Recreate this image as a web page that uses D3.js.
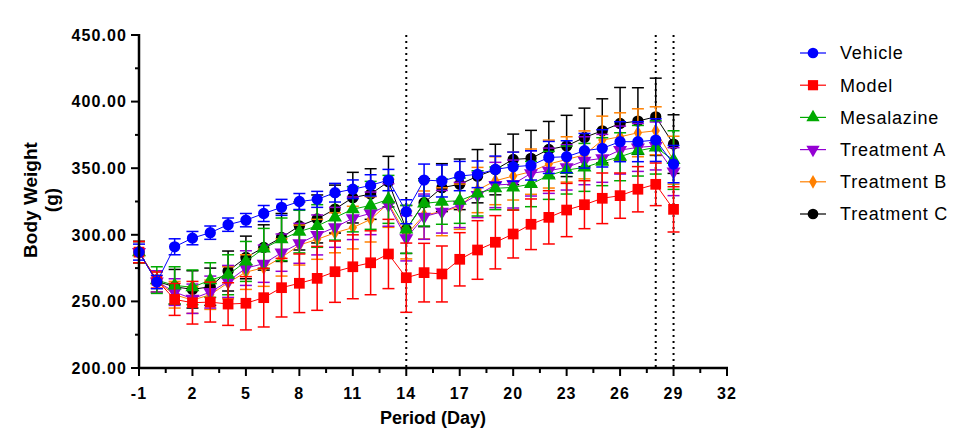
<!DOCTYPE html>
<html>
<head>
<meta charset="utf-8">
<script src="https://cdn.jsdelivr.net/npm/d3@7"></script>
<style>
  html, body { margin: 0; padding: 0; background: #fff; }
  svg { display: block; font-family: "Liberation Sans", Arial, sans-serif; }
</style>
</head>
<body>
<svg id="chart" width="963" height="448"></svg>
<script>
// ---- Data ----
const days = [-1,0,1,2,3,4,5,6,7,8,9,10,11,12,13,14,15,16,17,18,19,20,21,22,23,24,25,26,27,28,29];

const vehicleMean = [287,264.5,291,297.5,301.6,307.6,311,316,320.6,325,326.6,331.6,334.2,337.1,341.1,317.3,341.1,340.4,344.1,345.4,349.1,351.1,352.1,358.1,358.6,363.1,364.9,369.9,369.9,371.1,353.1];
const vehicleSD   = [6,5,6,5,5,5,5,6,6,6,6,7,7,8,8,9,12,12,11,10,10,11,11,12,12,13,14,15,15,16,14];

const modelMean = [287,266,251.5,249,249.5,248,248.6,252.8,260.3,263.6,267.3,272.3,276,279,285.6,267.8,271.6,270.6,281.6,288.6,294.4,300.6,307.9,313.1,318.6,322.6,327.4,329.4,334.2,337.9,319.1];
const modelSD   = [8,6,12,16,15,16,20,22,22,22,24,23,24,24,26,26,22,21,20,22,20,18,19,20,20,18,19,17,17,16,17];

const mesalazineMean = [287,266,262,260.6,266,270,280,289.8,296.6,302.4,306.6,313,319.2,322.1,326.6,304.1,323.6,324.9,325.6,331.1,334.9,335.6,338.1,344.6,348.6,350.6,354.9,358.6,363.1,365.6,356.1];
const mesalazineSD   = [8,10,14,13,13,15,15,15,16,16,16,17,17,18,18,18,17,17,17,17,16,17,17,18,18,18,18,18,19,20,22];

const treatAMean = [287,265,257,252,257,265,275,278.3,286.6,293.6,299.9,305.6,312.4,316.1,322.4,297.4,313.6,317.3,322.4,329.9,337.4,338.1,346.1,348.1,350.6,355.6,357.4,363.6,365.6,366.7,347.4];
const treatASD   = [8,8,10,11,12,12,13,14,14,15,15,15,16,16,16,17,17,16,17,17,17,18,17,17,17,18,18,18,18,18,18];

const treatBMean = [287,265,255,251,255,264,272,275.3,283,292.3,296.6,301.5,305.4,311.6,323.6,299.9,314.9,317.3,321.1,333.6,340.6,344.1,347.4,353.1,356.6,360,371.1,373.6,376.6,378.1,356];
const treatBSD   = [8,8,10,10,11,12,13,14,14,15,15,15,16,17,18,18,18,18,17,17,18,18,17,18,17,18,18,18,18,18,18];

const treatCMean = [287,265,261,259,261,272.8,283,290.5,298,306.6,311.9,319.3,327.9,330.6,339.9,304,324.1,335.4,337.9,344,349,356.6,357.4,364.1,366.7,373.1,378.1,383.6,385.4,388.6,368.1];
const treatCSD   = [8,8,13,14,14,15,16,17,18,18,18,18,19,19,19,18,18,18,19,20,19,19,21,21,23,22,24,27,25,29,22];

const seriesNames = ["Vehicle","Model","Mesalazine","Treatment A","Treatment B","Treatment C"];
const xTicks = [-1,2,5,8,11,14,17,20,23,26,29,32];
const yTicks = [200,250,300,350,400,450];
const markerDays = [14,28,29];

// ---- Series config ----
const series = [
  {name: seriesNames[0], mean: vehicleMean,    sd: vehicleSD,    color: "#0000FF", sym: d3.symbolCircle,   size: 100, rot: 0},
  {name: seriesNames[1], mean: modelMean,      sd: modelSD,      color: "#FF0000", sym: d3.symbolSquare,   size: 115, rot: 0},
  {name: seriesNames[2], mean: mesalazineMean, sd: mesalazineSD, color: "#00AA00", sym: d3.symbolTriangle, size: 85,  rot: 0},
  {name: seriesNames[3], mean: treatAMean,     sd: treatASD,     color: "#9400D3", sym: d3.symbolTriangle, size: 85,  rot: 180},
  {name: seriesNames[4], mean: treatBMean,     sd: treatBSD,     color: "#FF8000", sym: d3.symbolDiamond,  size: 60,  rot: 0},
  {name: seriesNames[5], mean: treatCMean,     sd: treatCSD,     color: "#000000", sym: d3.symbolCircle,   size: 100, rot: 0}
];

const svg = d3.select("#chart");
const x = d3.scaleLinear().domain([-1, 32]).range([139, 727]);
const y = d3.scaleLinear().domain([200, 450]).range([368, 35]);

// Dotted vertical reference lines
svg.append("g").selectAll("line").data(markerDays).join("line")
  .attr("x1", d => x(d)).attr("x2", d => x(d))
  .attr("y1", y(450)).attr("y2", y(200))
  .attr("stroke", "#000").attr("stroke-width", 2)
  .attr("stroke-dasharray", "2,4");

// Series (draw last first so Vehicle on top)
const plot = svg.append("g");
series.slice().reverse().forEach(s => {
  const g = plot.append("g");
  const pts = days.map((d, i) => ({d, m: s.mean[i], sd: s.sd[i]}));
  const eb = g.append("g").attr("stroke", s.color).attr("stroke-width", 1.5);
  pts.forEach(p => {
    eb.append("line").attr("x1", x(p.d)).attr("x2", x(p.d)).attr("y1", y(p.m - p.sd)).attr("y2", y(p.m + p.sd));
    eb.append("line").attr("x1", x(p.d) - 6).attr("x2", x(p.d) + 6).attr("y1", y(p.m + p.sd)).attr("y2", y(p.m + p.sd));
    eb.append("line").attr("x1", x(p.d) - 6).attr("x2", x(p.d) + 6).attr("y1", y(p.m - p.sd)).attr("y2", y(p.m - p.sd));
  });
  g.append("path").datum(pts)
    .attr("fill", "none").attr("stroke", s.color).attr("stroke-width", 1)
    .attr("d", d3.line().x(p => x(p.d)).y(p => y(p.m)));
  g.selectAll("path.m").data(pts).join("path").attr("class", "m")
    .attr("d", d3.symbol().type(s.sym).size(s.size))
    .attr("transform", p => `translate(${x(p.d)},${y(p.m)}) rotate(${s.rot})`)
    .attr("fill", s.color);
});

// Axes
const yAxis = svg.append("g");
yAxis.append("line").attr("x1", 139).attr("x2", 139).attr("y1", y(450) - 1).attr("y2", y(200) + 1)
  .attr("stroke", "#000").attr("stroke-width", 2.5);
const yMinor = d3.range(200, 451, 25);
yAxis.selectAll("line.t").data(yMinor).join("line").attr("class", "t")
  .attr("x1", d => d % 50 === 0 ? 131 : 135).attr("x2", 139)
  .attr("y1", d => y(d)).attr("y2", d => y(d))
  .attr("stroke", "#000").attr("stroke-width", 2);
yAxis.selectAll("text").data(yTicks).join("text")
  .attr("x", 127).attr("y", d => y(d)).attr("dy", "0.36em")
  .attr("text-anchor", "end").attr("font-size", 16).attr("font-weight", "bold")
  .attr("letter-spacing", "1.1px")
  .text(d => d.toFixed(2));

const xAxis = svg.append("g");
xAxis.append("line").attr("x1", 138).attr("x2", x(32) + 1).attr("y1", 368).attr("y2", 368)
  .attr("stroke", "#000").attr("stroke-width", 2.5);
const xMinor = d3.range(-1, 32.01, 1.5);
xAxis.selectAll("line.t").data(xMinor).join("line").attr("class", "t")
  .attr("x1", d => x(d)).attr("x2", d => x(d))
  .attr("y1", 368).attr("y2", d => (Math.abs((d + 1) % 3) < 0.01 ? 376 : 373))
  .attr("stroke", "#000").attr("stroke-width", 2);
xAxis.selectAll("text").data(xTicks).join("text")
  .attr("x", d => x(d)).attr("y", 399)
  .attr("text-anchor", "middle").attr("font-size", 16).attr("font-weight", "bold")
  .attr("letter-spacing", "1.1px")
  .text(d => d);

// Axis titles
svg.append("text").attr("x", 433).attr("y", 424).attr("text-anchor", "middle")
  .attr("font-size", 18).attr("font-weight", "bold").text("Period (Day)");
svg.append("text").attr("transform", "translate(37,200) rotate(-90)").attr("text-anchor", "middle")
  .attr("font-size", 19).attr("font-weight", "bold").text("Body Weight");
svg.append("text").attr("transform", "translate(58,200) rotate(-90)").attr("text-anchor", "middle")
  .attr("font-size", 19).attr("font-weight", "bold").text("(g)");

// Legend
const leg = svg.append("g");
series.forEach((s, i) => {
  const cy = 53 + i * 32.2;
  leg.append("line").attr("x1", 800).attr("x2", 826).attr("y1", cy).attr("y2", cy)
    .attr("stroke", s.color).attr("stroke-width", 1.2);
  leg.append("path").attr("d", d3.symbol().type(s.sym).size(s.size * 0.9))
    .attr("transform", `translate(813,${cy}) rotate(${s.rot})`).attr("fill", s.color);
  leg.append("text").attr("x", 840).attr("y", cy).attr("dy", "0.36em")
    .attr("font-size", 18).attr("letter-spacing", "0.8px").text(s.name);
});
</script>
</body>
</html>
